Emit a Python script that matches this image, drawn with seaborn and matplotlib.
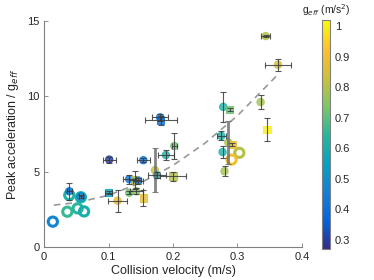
import numpy as np
import pandas as pd
import matplotlib
matplotlib.use("Agg")
import matplotlib.pyplot as plt
import seaborn as sns
from matplotlib.colors import LinearSegmentedColormap, Normalize
from matplotlib.cm import ScalarMappable

# DATA

# filled markers with error bars
vel = [0.180, 0.181, 0.101, 0.154, 0.189, 0.202, 0.172, 0.175, 0.200, 0.132,
       0.141, 0.146, 0.132, 0.143, 0.154, 0.114, 0.100, 0.039, 0.057, 0.344,
       0.363, 0.336, 0.278, 0.288, 0.346, 0.275, 0.286, 0.292, 0.277, 0.280]
acc = [8.60, 8.40, 5.80, 5.76, 6.10, 6.70, 5.10, 4.77, 4.70, 4.50,
       4.45, 4.40, 3.60, 3.70, 3.25, 3.07, 3.60, 3.70, 3.35, 14.00,
       12.10, 9.62, 9.30, 9.14, 7.80, 7.37, 6.93, 6.80, 6.30, 5.03]
vel_err = [0.012, 0.025, 0.010, 0.010, 0.012, 0.004, 0.000, 0.014, 0.020, 0.010,
           0.010, 0.008, 0.000, 0.010, 0.000, 0.015, 0.005, 0.004, 0.003, 0.007,
           0.020, 0.000, 0.000, 0.000, 0.000, 0.007, 0.000, 0.000, 0.000, 0.000]
acc_err = [0.25, 0.30, 0.20, 0.15, 0.35, 0.85, 1.45, 0.20, 0.30, 0.30,
           0.60, 0.20, 0.10, 0.20, 0.50, 0.72, 0.10, 0.55, 0.10, 0.05,
           0.40, 0.47, 1.00, 0.10, 0.77, 0.30, 1.40, 0.10, 0.40, 0.35]
g_eff = [0.42, 0.40, 0.30, 0.42, 0.62, 0.72, 0.82, 0.63, 0.80, 0.42,
         0.80, 0.45, 0.72, 0.75, 0.87, 0.88, 0.55, 0.42, 0.45, 0.80,
         0.84, 0.78, 0.62, 0.72, 1.00, 0.62, 0.80, 0.88, 0.62, 0.78]
shape = ["o", "s", "o", "o", "o", "o", "o", "o", "s", "o",
         "s", "o", "o", "o", "s", "o", "s", "o", "o", "o",
         "o", "o", "o", "s", "s", "o", "o", "s", "o", "o"]
thick = [False] * 30
thick[6] = True
thick[26] = True

# open rings (no error bars)
ring_vel = [0.039, 0.057, 0.036, 0.052, 0.062, 0.0135, 0.303, 0.291]
ring_acc = [3.44, 3.30, 2.34, 2.56, 2.36, 1.68, 6.25, 5.80]
ring_g = [0.62, 0.60, 0.66, 0.64, 0.60, 0.47, 0.80, 0.90]

# dashed fit curve
fit_vel = [0.015, 0.05, 0.10, 0.15, 0.20, 0.25, 0.30, 0.36]
fit_acc = [2.78, 2.94, 3.43, 4.26, 5.41, 6.90, 8.71, 11.32]

cbar_ticks = [0.3, 0.4, 0.5, 0.6, 0.7, 0.8, 0.9, 1.0]
cbar_labels = ["0.3", "0.4", "0.5", "0.6", "0.7", "0.8", "0.9", "1"]

# parula-like colormap
parula = LinearSegmentedColormap.from_list("parula", [
    (0.00, (0.208, 0.166, 0.529)),
    (0.12, (0.012, 0.388, 0.882)),
    (0.25, (0.078, 0.504, 0.838)),
    (0.37, (0.024, 0.634, 0.752)),
    (0.50, (0.154, 0.720, 0.615)),
    (0.62, (0.488, 0.773, 0.409)),
    (0.75, (0.812, 0.750, 0.226)),
    (0.87, (0.990, 0.747, 0.189)),
    (1.00, (0.976, 0.983, 0.054)),
])
norm = Normalize(vmin=0.27, vmax=1.02)

df = pd.DataFrame({"vel": vel, "acc": acc, "vel_err": vel_err,
                   "acc_err": acc_err, "g": g_eff, "shape": shape, "thick": thick})

sns.set_style("white")
plt.rcParams["font.family"] = ["Liberation Sans", "DejaVu Sans"]

fig = plt.figure(figsize=(3.74, 2.80), dpi=100)
ax = fig.add_axes([0.118, 0.118, 0.689, 0.807])
cax = fig.add_axes([0.861, 0.111, 0.022, 0.818])

# dashed fit
ax.plot(fit_vel, fit_acc, color="#999999", lw=1.2, dashes=(4, 3), zorder=1)

# open rings (under the filled markers)
ax.scatter(ring_vel, ring_acc, s=44, facecolors="none",
           edgecolors=[parula(norm(v)) for v in ring_g], linewidths=2.2, zorder=1.5)

# filled markers
sns.scatterplot(data=df, x="vel", y="acc", hue="g", palette=parula,
                hue_norm=norm, style="shape", markers={"o": "o", "s": "s"},
                s=28, alpha=0.8, edgecolor="face", linewidth=0.8,
                legend=False, ax=ax, zorder=2)

# error bars drawn over the markers
for _, r in df.iterrows():
    if r["thick"]:
        lw, col = 2.0, "#6e6e6e"
    else:
        lw, col = 0.8, "#3a3a3a"
    ax.errorbar(r["vel"], r["acc"],
                xerr=r["vel_err"] if r["vel_err"] > 0 else None,
                yerr=r["acc_err"], fmt="none", ecolor=col, alpha=0.85,
                elinewidth=lw, capsize=2.5, capthick=0.8, zorder=3)

ax.set_xlim(0, 0.4)
ax.set_ylim(0, 15)
ax.set_xticks([0, 0.1, 0.2, 0.3, 0.4])
ax.set_xticklabels(["0", "0.1", "0.2", "0.3", "0.4"])
ax.set_yticks([0, 5, 10, 15])
ax.set_xlabel("Collision velocity (m/s)", fontsize=9, color="#262626", labelpad=2)
ax.set_ylabel("Peak acceleration / g$_{eff}$", fontsize=9, color="#262626", labelpad=4)
ax.tick_params(direction="in", length=3, width=0.6, colors="#808080",
               labelcolor="#262626", labelsize=8, bottom=True, left=True)
for side in ["top", "right"]:
    ax.spines[side].set_visible(False)
for side in ["left", "bottom"]:
    ax.spines[side].set_color("#808080")
    ax.spines[side].set_linewidth(0.8)

sm = ScalarMappable(norm=norm, cmap=parula)
cb = fig.colorbar(sm, cax=cax)
cb.set_ticks(cbar_ticks)
cb.set_ticklabels(cbar_labels)
cb.outline.set_edgecolor("#808080")
cb.outline.set_linewidth(0.8)
cax.tick_params(direction="in", length=2, width=0.6, colors="#808080",
                labelcolor="#262626", labelsize=8)
cax.set_title("g$_{eff}$ (m/s$^2$)", fontsize=7.5, color="#262626", pad=4)

fig.savefig("out.png", dpi=100)
